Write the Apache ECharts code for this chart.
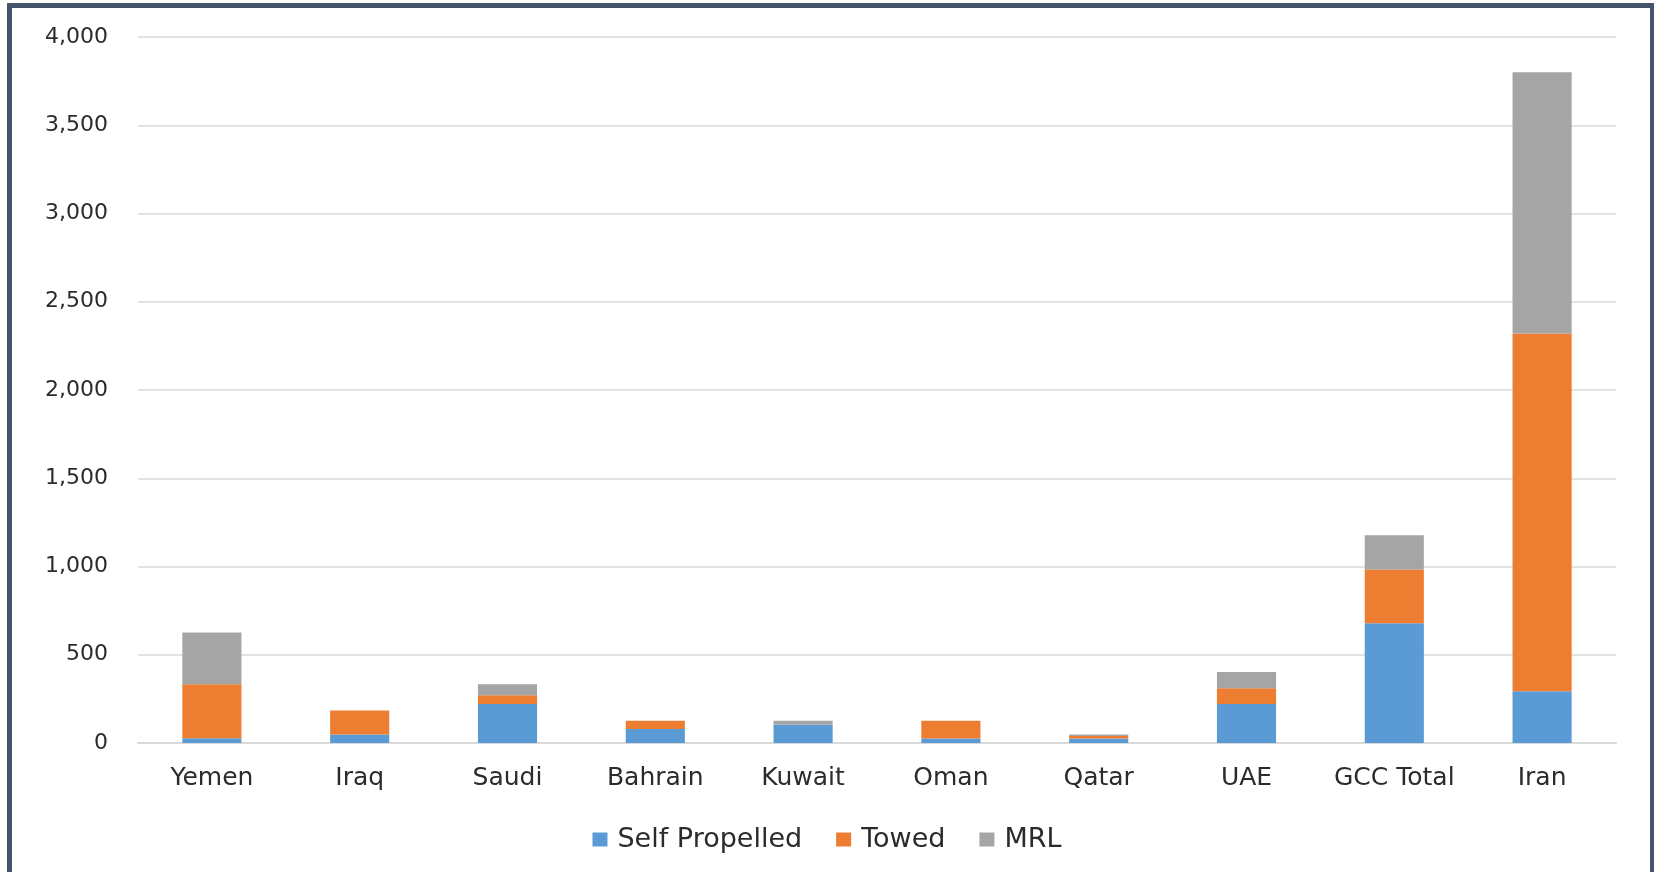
<!DOCTYPE html>
<html>
<head>
<meta charset="utf-8">
<script src="https://cdn.jsdelivr.net/npm/echarts@6/dist/echarts.min.js"></script>
<style>
  html, body { margin: 0; padding: 0; background: #ffffff; }
  #chart { position: absolute; left: 0; top: 0; width: 1654px; height: 872px; }
  #frame { position: absolute; left: 7px; top: 3px; width: 1638px; height: 869px;
           border-left: 5px solid #44546A; border-top: 5px solid #44546A; border-right: 5px solid #44546A;
           pointer-events: none; }
</style>
</head>
<body>
<div id="chart"></div>
<div id="frame"></div>
<script>
const categories = ['Yemen', 'Iraq', 'Saudi', 'Bahrain', 'Kuwait', 'Oman', 'Qatar', 'UAE', 'GCC Total', 'Iran'];
const selfPropelled = [27, 48, 221, 80, 103, 25, 26, 221, 678, 293];
const towed = [306, 136, 49, 46, 0, 101, 14, 89, 305, 2027];
const mrl = [293, 0, 63, 0, 23, 0, 8, 92, 194, 1480];
const yTicks = { min: 0, max: 4000, interval: 500 };

const FONT = 'DejaVu Sans';
const chart = echarts.init(document.getElementById('chart'));
const mkSeries = (name, data, color) => ({
  name, type: 'bar', stack: 'total', data, barWidth: '40%',
  itemStyle: { color },
  emphasis: { disabled: true }
});
chart.setOption({
  animation: false,
  textStyle: { fontFamily: FONT },
  grid: { left: 138, right: 38, top: 37, bottom: 129 },
  xAxis: {
    type: 'category', data: categories,
    axisLine: { lineStyle: { color: '#d9d9d9', width: 2 } },
    axisTick: { show: false },
    axisLabel: { color: '#2b2b2b', fontSize: 25, fontFamily: FONT, margin: 23, interval: 0 }
  },
  yAxis: {
    type: 'value', min: yTicks.min, max: yTicks.max, interval: yTicks.interval,
    axisLine: { show: false }, axisTick: { show: false },
    splitLine: { lineStyle: { color: '#d9d9d9', width: 1.5 } },
    axisLabel: { color: '#2b2b2b', fontSize: 22, fontFamily: FONT, margin: 30,
      formatter: v => v.toLocaleString('en-US') }
  },
  legend: {
    top: 821, left: 'center', itemWidth: 15, itemHeight: 14, itemGap: 34,
    icon: 'rect',
    textStyle: { color: '#2b2b2b', fontSize: 27, fontFamily: FONT, padding: [0, 0, 0, 5] },
    data: ['Self Propelled', 'Towed', 'MRL']
  },
  series: [
    mkSeries('Self Propelled', selfPropelled, '#5B9BD5'),
    mkSeries('Towed', towed, '#ED7D31'),
    mkSeries('MRL', mrl, '#A5A5A5')
  ]
});
</script>
</body>
</html>
